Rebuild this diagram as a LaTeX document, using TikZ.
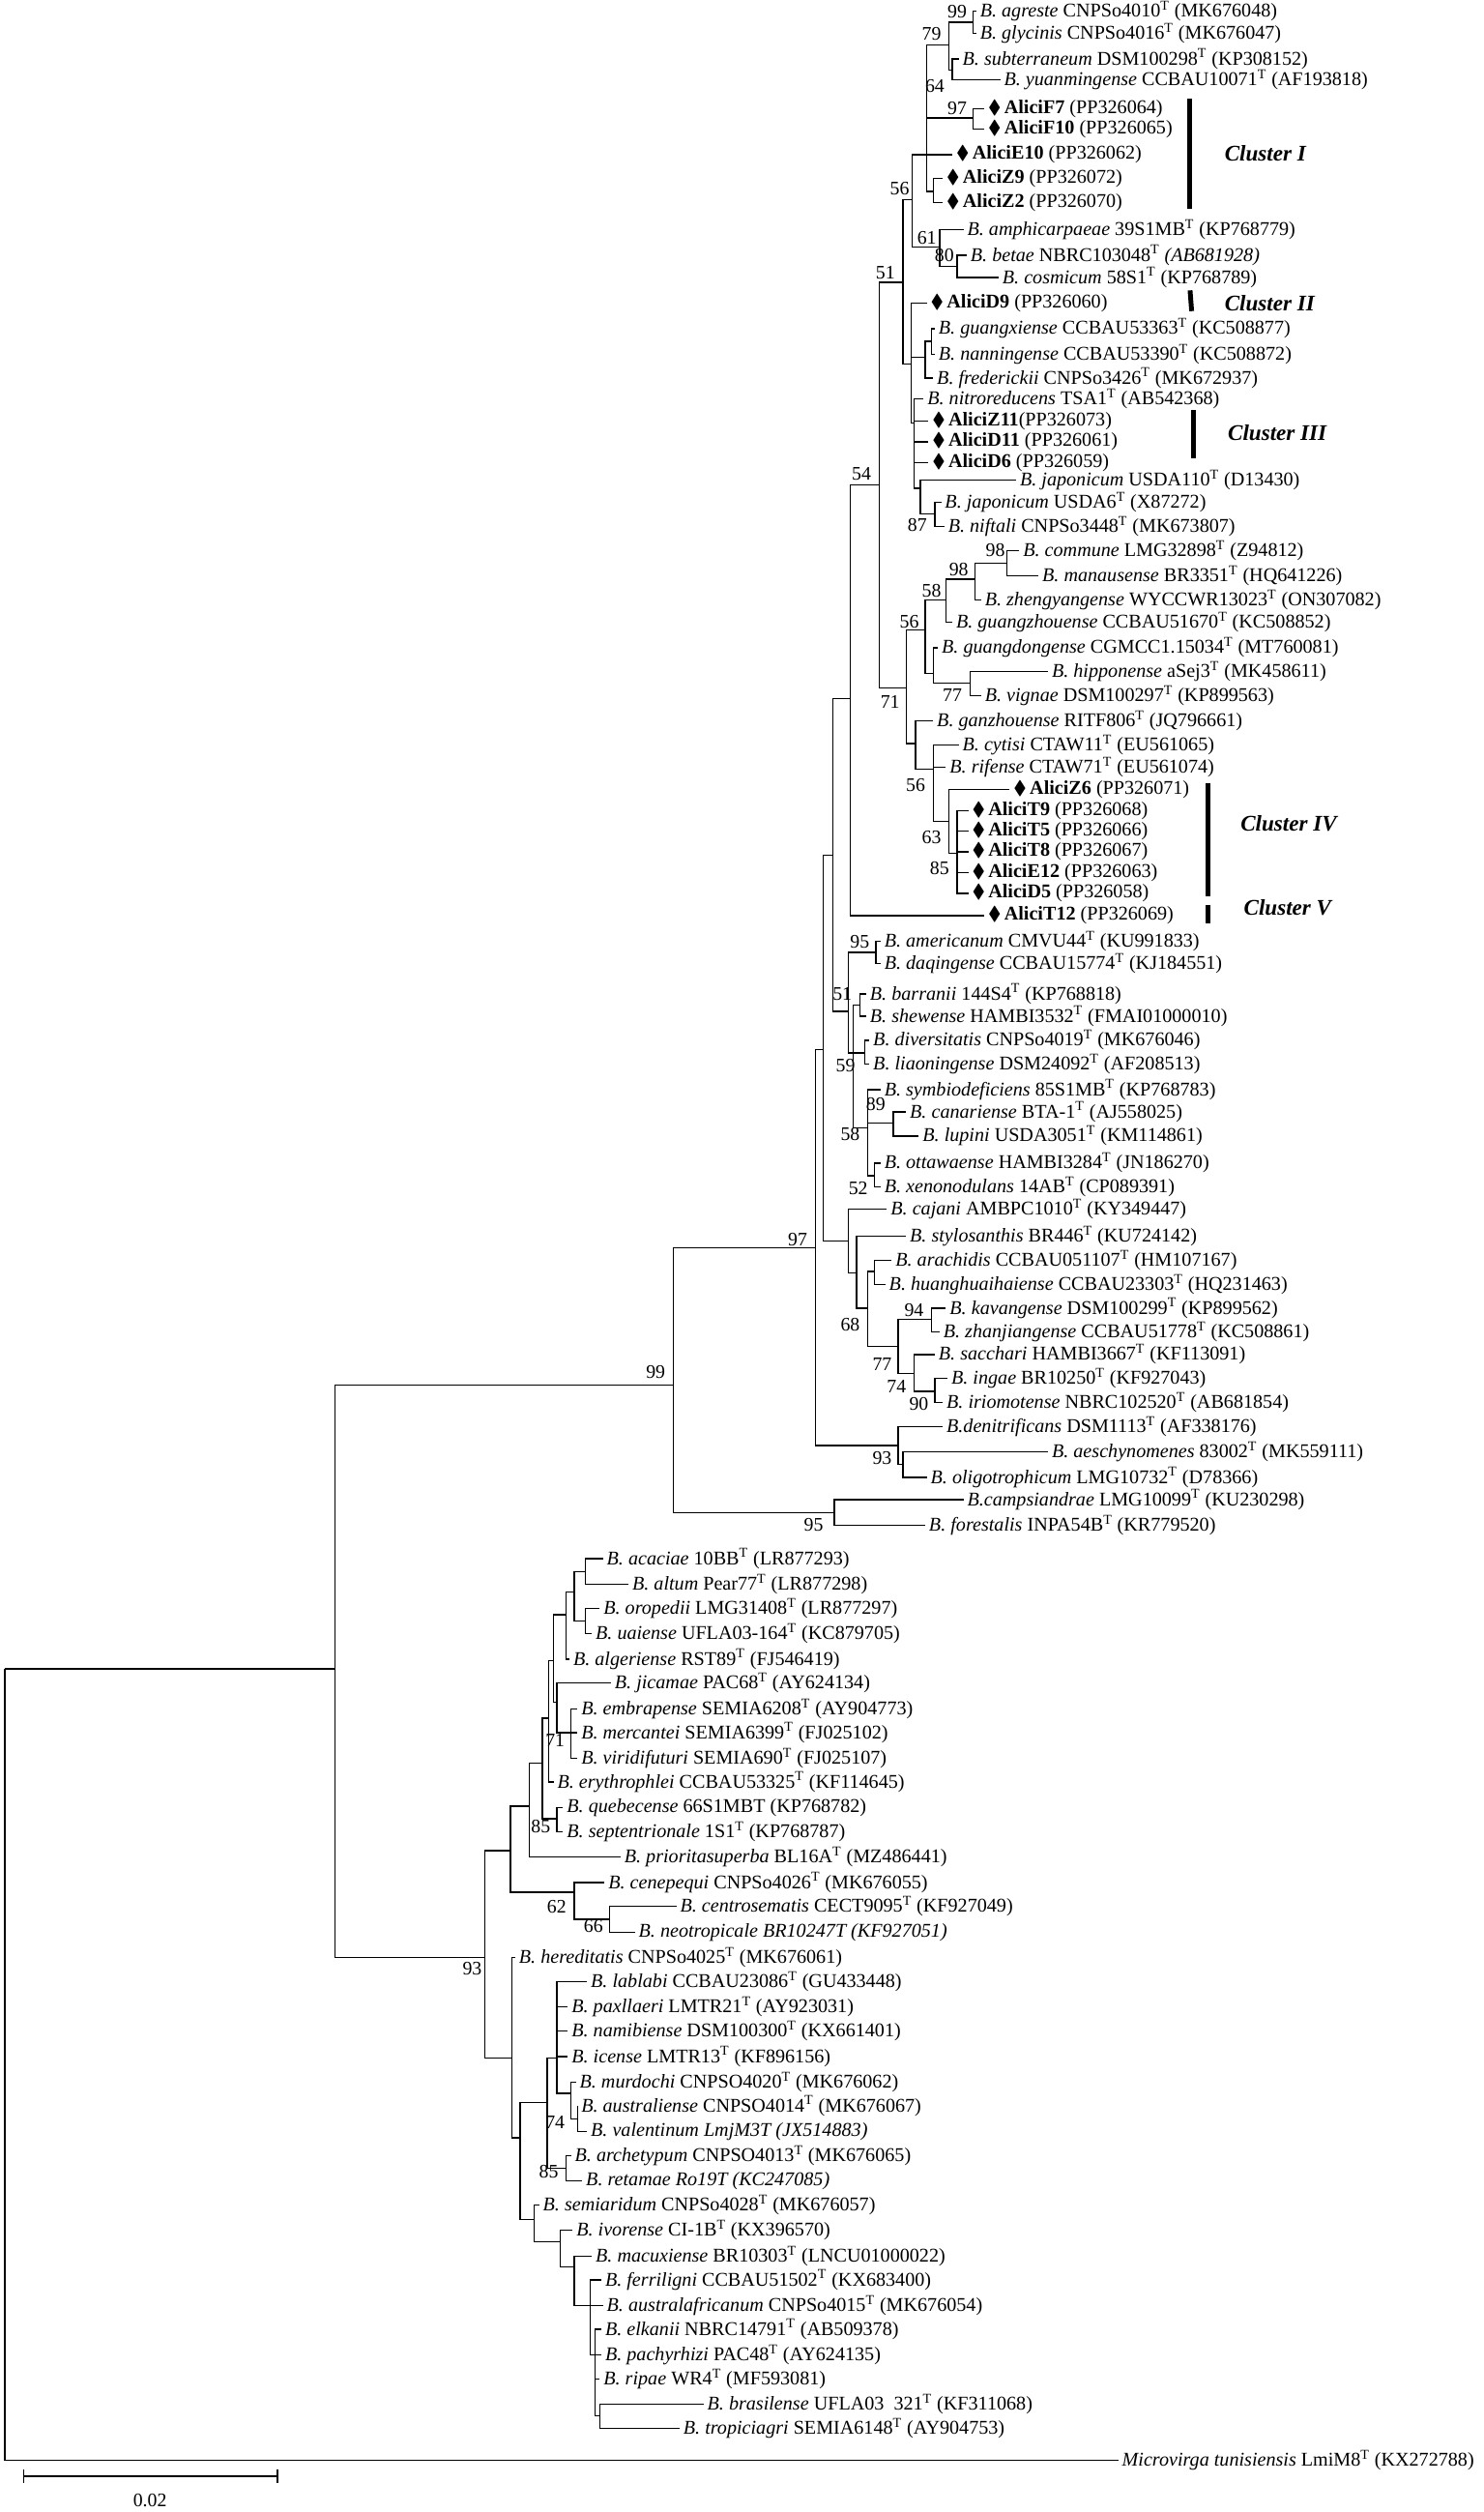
\documentclass[tikz,border=0pt]{standalone}
\usepackage{amssymb}
\usepackage{fontspec}
\setmainfont{Liberation Serif}
\newcommand{\T}{\textsuperscript{T}}
\newcommand{\dm}{$\blacklozenge$\,}
\begin{document}
\begin{tikzpicture}[x=1pt, y=-1pt, line width=0.8pt,
  leaf/.style={anchor=west, inner xsep=2pt, inner ysep=0pt, font=\fontsize{12.2}{13}\selectfont},
  boot/.style={font=\fontsize{12}{14}\selectfont, inner sep=0pt},
  clbar/.style={line width=3pt},
  cltext/.style={anchor=west, font=\fontsize{14}{16}\selectfont\bfseries\itshape}]
\useasboundingbox (0,0) rectangle (929.7,1574.5);
% leaves, upper clade
\node[leaf] (agr) at (612,7) {\textit{B. agreste} CNPSo4010\T{} (MK676048)};
\node[leaf] (gly) at (612,21) {\textit{B. glycinis} CNPSo4016\T{} (MK676047)};
\node[leaf] (sub) at (601,37) {\textit{B. subterraneum} DSM100298\T{} (KP308152)};
\node[leaf] (yua) at (627,50) {\textit{B. yuanmingense} CCBAU10071\T{} (AF193818)};
\node[leaf] (F7) at (617,68) {\dm\textbf{AliciF7} (PP326064)};
\node[leaf] (F10) at (617,81) {\dm\textbf{AliciF10} (PP326065)};
\node[leaf] (E10) at (597,97) {\dm\textbf{AliciE10} (PP326062)};
\node[leaf] (Z9) at (591,112) {\dm\textbf{AliciZ9} (PP326072)};
\node[leaf] (Z2) at (591,127) {\dm\textbf{AliciZ2} (PP326070)};
\node[leaf] (amp) at (604,144) {\textit{B. amphicarpaeae} 39S1MB\T{} (KP768779)};
\node[leaf] (bet) at (606,160) {\textit{B. betae} NBRC103048\T{} \textit{(AB681928)}};
\node[leaf] (cos) at (626,174) {\textit{B. cosmicum} 58S1\T{} (KP768789)};
\node[leaf] (D9) at (581,190) {\dm\textbf{AliciD9} (PP326060)};
\node[leaf] (gxi) at (586,206) {\textit{B. guangxiense} CCBAU53363\T{} (KC508877)};
\node[leaf] (nan) at (586,222) {\textit{B. nanningense} CCBAU53390\T{} (KC508872)};
\node[leaf] (fre) at (585,237) {\textit{B. frederickii} CNPSo3426\T{} (MK672937)};
\node[leaf] (nit) at (579,250) {\textit{B. nitroreducens} TSA1\T{} (AB542368)};
\node[leaf] (Z11) at (582,264) {\dm\textbf{AliciZ11}(PP326073)};
\node[leaf] (D11) at (582,277) {\dm\textbf{AliciD11} (PP326061)};
\node[leaf] (D6) at (582,290) {\dm\textbf{AliciD6} (PP326059)};
\node[leaf] (j110) at (637,301) {\textit{B. japonicum} USDA110\T{} (D13430)};
\node[leaf] (j6) at (590,315) {\textit{B. japonicum} USDA6\T{} (X87272)};
\node[leaf] (nif) at (592,330) {\textit{B. niftali} CNPSo3448\T{} (MK673807)};
\node[leaf] (com) at (639,345) {\textit{B. commune} LMG32898\T{} (Z94812)};
\node[leaf] (man) at (651,361) {\textit{B. manausense} BR3351\T{} (HQ641226)};
\node[leaf] (zhe) at (615,376) {\textit{B. zhengyangense} WYCCWR13023\T{} (ON307082)};
\node[leaf] (gzh) at (597,390) {\textit{B. guangzhouense} CCBAU51670\T{} (KC508852)};
\node[leaf] (gdo) at (588,406) {\textit{B. guangdongense} CGMCC1.15034\T{} (MT760081)};
\node[leaf] (hip) at (657,421) {\textit{B. hipponense} aSej3\T{} (MK458611)};
\node[leaf] (vig) at (615,436) {\textit{B. vignae} DSM100297\T{} (KP899563)};
\node[leaf] (gan) at (585,452) {\textit{B. ganzhouense} RITF806\T{} (JQ796661)};
\node[leaf] (cyt) at (601,467) {\textit{B. cytisi} CTAW11\T{} (EU561065)};
\node[leaf] (rif) at (593,481) {\textit{B. rifense} CTAW71\T{} (EU561074)};
\node[leaf] (Z6) at (633,495) {\dm\textbf{AliciZ6} (PP326071)};
\node[leaf] (T9) at (607,508) {\dm\textbf{AliciT9} (PP326068)};
\node[leaf] (T5) at (607,521) {\dm\textbf{AliciT5} (PP326066)};
\node[leaf] (T8) at (607,534) {\dm\textbf{AliciT8} (PP326067)};
\node[leaf] (E12) at (607,547) {\dm\textbf{AliciE12} (PP326063)};
\node[leaf] (D5) at (607,560) {\dm\textbf{AliciD5} (PP326058)};
\node[leaf] (T12) at (617,574) {\dm\textbf{AliciT12} (PP326069)};
% leaves, middle clades
\node[leaf] (ame) at (552,590) {\textit{B. americanum} CMVU44\T{} (KU991833)};
\node[leaf] (daq) at (552,604) {\textit{B. daqingense} CCBAU15774\T{} (KJ184551)};
\node[leaf] (bar) at (543,623) {\textit{B. barranii} 144S4\T{} (KP768818)};
\node[leaf] (she) at (543,637) {\textit{B. shewense} HAMBI3532\T{} (FMAI01000010)};
\node[leaf] (div) at (545,652) {\textit{B. diversitatis} CNPSo4019\T{} (MK676046)};
\node[leaf] (lia) at (545,667) {\textit{B. liaoningense} DSM24092\T{} (AF208513)};
\node[leaf] (sym) at (552,683) {\textit{B. symbiodeficiens} 85S1MB\T{} (KP768783)};
\node[leaf] (can) at (568,697) {\textit{B. canariense} BTA-1\T{} (AJ558025)};
\node[leaf] (lup) at (576,712) {\textit{B. lupini} USDA3051\T{} (KM114861)};
\node[leaf] (ott) at (552,729) {\textit{B. ottawaense} HAMBI3284\T{} (JN186270)};
\node[leaf] (xen) at (552,744) {\textit{B. xenonodulans} 14AB\T{} (CP089391)};
\node[leaf] (caj) at (556,758) {\textit{B. cajani} AMBPC1010\T{} (KY349447)};
\node[leaf] (sty) at (568,775) {\textit{B. stylosanthis} BR446\T{} (KU724142)};
\node[leaf] (ara) at (559,790) {\textit{B. arachidis} CCBAU051107\T{} (HM107167)};
\node[leaf] (hua) at (555,805) {\textit{B. huanghuaihaiense} CCBAU23303\T{} (HQ231463)};
\node[leaf] (kav) at (593,820) {\textit{B. kavangense} DSM100299\T{} (KP899562)};
\node[leaf] (zha) at (589,835) {\textit{B. zhanjiangense} CCBAU51778\T{} (KC508861)};
\node[leaf] (sac) at (586,849) {\textit{B. sacchari} HAMBI3667\T{} (KF113091)};
\node[leaf] (ing) at (594,864) {\textit{B. ingae} BR10250\T{} (KF927043)};
\node[leaf] (iri) at (591,879) {\textit{B. iriomotense} NBRC102520\T{} (AB681854)};
\node[leaf] (den) at (591,894) {\textit{B.denitrificans} DSM1113\T{} (AF338176)};
\node[leaf] (aes) at (657,910) {\textit{B. aeschynomenes} 83002\T{} (MK559111)};
\node[leaf] (oli) at (581,926) {\textit{B. oligotrophicum} LMG10732\T{} (D78366)};
\node[leaf] (cam) at (604,940) {\textit{B.campsiandrae} LMG10099\T{} (KU230298)};
\node[leaf] (for) at (580,956) {\textit{B. forestalis} INPA54B\T{} (KR779520)};
% leaves, lower clade
\node[leaf] (aca) at (378,977) {\textit{B. acaciae} 10BB\T{} (LR877293)};
\node[leaf] (alt) at (394,993) {\textit{B. altum} Pear77\T{} (LR877298)};
\node[leaf] (oro) at (376,1008) {\textit{B. oropedii} LMG31408\T{} (LR877297)};
\node[leaf] (uai) at (371,1024) {\textit{B. uaiense} UFLA03-164\T{} (KC879705)};
\node[leaf] (alg) at (357,1040) {\textit{B. algeriense} RST89\T{} (FJ546419)};
\node[leaf] (jic) at (383,1055) {\textit{B. jicamae} PAC68\T{} (AY624134)};
\node[leaf] (emb) at (362,1071) {\textit{B. embrapense} SEMIA6208\T{} (AY904773)};
\node[leaf] (mer) at (362,1086) {\textit{B. mercantei} SEMIA6399\T{} (FJ025102)};
\node[leaf] (vir) at (362,1102) {\textit{B. viridifuturi} SEMIA690\T{} (FJ025107)};
\node[leaf] (ery) at (347,1117) {\textit{B. erythrophlei} CCBAU53325\T{} (KF114645)};
\node[leaf] (que) at (353,1133) {\textit{B. quebecense} 66S1MBT (KP768782)};
\node[leaf] (sep) at (353,1148) {\textit{B. septentrionale} 1S1\T{} (KP768787)};
\node[leaf] (pri) at (389,1164) {\textit{B. prioritasuperba} BL16A\T{} (MZ486441)};
\node[leaf] (cen) at (379,1180) {\textit{B. cenepequi} CNPSo4026\T{} (MK676055)};
\node[leaf] (ctr) at (424,1195) {\textit{B. centrosematis} CECT9095\T{} (KF927049)};
\node[leaf] (neo) at (398,1211) {\textit{B. neotropicale BR10247T (KF927051)}};
\node[leaf] (her) at (323,1227) {\textit{B. hereditatis} CNPSo4025\T{} (MK676061)};
\node[leaf] (lab) at (368,1242) {\textit{B. lablabi} CCBAU23086\T{} (GU433448)};
\node[leaf] (pax) at (356,1258) {\textit{B. paxllaeri} LMTR21\T{} (AY923031)};
\node[leaf] (nam) at (356,1273) {\textit{B. namibiense} DSM100300\T{} (KX661401)};
\node[leaf] (ice) at (356,1289) {\textit{B. icense} LMTR13\T{} (KF896156)};
\node[leaf] (mur) at (361,1305) {\textit{B. murdochi} CNPSO4020\T{} (MK676062)};
\node[leaf] (aus) at (362,1320) {\textit{B. australiense} CNPSO4014\T{} (MK676067)};
\node[leaf] (val) at (368,1336) {\textit{B. valentinum LmjM3T (JX514883)}};
\node[leaf] (arc) at (358,1351) {\textit{B. archetypum} CNPSO4013\T{} (MK676065)};
\node[leaf] (ret) at (365,1367) {\textit{B. retamae Ro19T (KC247085)}};
\node[leaf] (sem) at (338,1382) {\textit{B. semiaridum} CNPSo4028\T{} (MK676057)};
\node[leaf] (ivo) at (359,1398) {\textit{B. ivorense} CI-1B\T{} (KX396570)};
\node[leaf] (mac) at (371,1414) {\textit{B. macuxiense} BR10303\T{} (LNCU01000022)};
\node[leaf] (fer) at (377,1429) {\textit{B. ferriligni} CCBAU51502\T{} (KX683400)};
\node[leaf] (afr) at (378,1445) {\textit{B. australafricanum} CNPSo4015\T{} (MK676054)};
\node[leaf] (elk) at (377,1460) {\textit{B. elkanii} NBRC14791\T{} (AB509378)};
\node[leaf] (pac) at (377,1476) {\textit{B. pachyrhizi} PAC48\T{} (AY624135)};
\node[leaf] (rip) at (376,1491) {\textit{B. ripae} WR4\T{} (MF593081)};
\node[leaf] (bra) at (441,1507) {\textit{B. brasilense} UFLA03\ \ 321\T{} (KF311068)};
\node[leaf] (tro) at (426,1522) {\textit{B. tropiciagri} SEMIA6148\T{} (AY904753)};
\node[leaf] (mic) at (701,1542) {\textit{Microvirga tunisiensis} LmiM8\T{} (KX272788)};
% inner nodes
\foreach \n/\x/\y in {root/3/1046, bra0/210/1046, n99/422/868, n97/511/782, top/516/658,
  k/522/536, n54/533/438, a/551/304, b/566/177, n56/572/125, n64/581/97, n79/595/28,
  n99a/610/14, nsy/597/44, n97a/610/74, nz/585/120, n61/589/155, n80/600/167,
  c/571/228, g/580/224, ngn/584/214, c2/573/265, j/577/306, n87/586/322,
  n71/568/431, n56a/580/395, n58/593/376, n98a/611/363, n98b/631/353, ng2/585/422,
  n77/608/428, n56b/574/466, n56c/585/482, n63/595/515, n85/600/535,
  n51/532/634, n95/549/597, n59/535/660, nbs1/539/630, nbs2/542/660, n58m/544/707,
  n89/560/704, n52/548/737, ncs/532/778, nsty/537/798, n68/544/820, nah/548/797,
  n77b/563/844, n94/584/827, n74/573/861, n90/586/872, n93/563/906, nao/566/918,
  n95b/523/948,
  n93b/304/1227, u/320/1160, p/332/1132, q/340/1105, n85c/349/1140, r/344/1077,
  s/347/1041, t/355/1012, v/360/998, naa/367/985, nou/367/1016, n71c/349/1067,
  nemv/358/1086, n62/360/1186, n66/382/1203, l/321/1290, m/326/1340, w/343/1318,
  w1/349/1290, n74c/358/1312, nav/362/1328, n85d/355/1359, xx/335/1391,
  x1/351/1405, x2/360/1421, x3/370/1445, x4/373/1476, x5/376/1514}
  \coordinate (\n) at (\x,\y);
% branches
\foreach \p/\c in {root/bra0, root/mic, bra0/n99, bra0/n93b, n99/n97, n99/n95b,
  n97/top, n97/n93, top/k, top/ncs, k/n54, k/n51, n54/a, n54/T12, a/b, a/n71,
  b/n56, b/c, n56/n64, n56/n61, n64/n79, n64/n97a, n64/E10, n64/nz, n79/n99a, n79/nsy,
  n99a/agr, n99a/gly, nsy/sub, nsy/yua, n97a/F7, n97a/F10, nz/Z9, nz/Z2,
  n61/amp, n61/n80, n80/bet, n80/cos, c/D9, c/g, c/c2, g/ngn, g/fre, ngn/gxi, ngn/nan,
  c2/nit, c2/Z11, c2/D11, c2/D6, c2/j, j/j110, j/n87, n87/j6, n87/nif,
  n71/n56a, n71/n56b, n56a/n58, n56a/ng2, n58/n98a, n58/gzh, n98a/n98b, n98a/zhe,
  n98b/com, n98b/man, ng2/gdo, ng2/n77, n77/hip, n77/vig, n56b/gan, n56b/n56c,
  n56c/cyt, n56c/rif, n56c/n63, n63/Z6, n63/n85, n85/T9, n85/T5, n85/T8, n85/E12, n85/D5,
  n51/n95, n51/n59, n95/ame, n95/daq, n59/nbs1, n59/nbs2, n59/n58m, nbs1/bar, nbs1/she,
  nbs2/div, nbs2/lia, n58m/sym, n58m/n89, n58m/n52, n89/can, n89/lup, n52/ott, n52/xen,
  ncs/caj, ncs/nsty, nsty/sty, nsty/n68, n68/nah, n68/n77b, nah/ara, nah/hua,
  n77b/n94, n77b/n74, n94/kav, n94/zha, n74/sac, n74/n90, n90/ing, n90/iri,
  n93/den, n93/nao, nao/aes, nao/oli, n95b/cam, n95b/for,
  n93b/u, n93b/l, u/p, u/n62, p/q, p/pri, q/r, q/n85c, n85c/que, n85c/sep,
  r/s, r/ery, s/t, s/n71c, t/v, t/alg, v/naa, v/nou, naa/aca, naa/alt, nou/oro, nou/uai,
  n71c/jic, n71c/nemv, nemv/emb, nemv/mer, nemv/vir, n62/cen, n62/n66, n66/ctr, n66/neo,
  l/her, l/m, m/w, m/xx, w/w1, w/n85d, w1/lab, w1/pax, w1/nam, w1/ice, w1/n74c,
  n74c/mur, n74c/nav, nav/aus, nav/val, n85d/arc, n85d/ret, xx/sem, xx/x1, x1/ivo, x1/x2,
  x2/mac, x2/x3, x3/fer, x3/afr, x3/x4, x4/elk, x4/pac, x4/rip, x4/x5, x5/bra, x5/tro}
  \draw (\p) |- (\c);
% bootstrap values
\foreach \v/\x/\y in {99/600/7, 79/584/21, 64/586/54, 97/600/68, 56/564/118, 61/581/149,
  80/592/160, 51/555/171, 54/540/297, 87/575/329, 98/624/345, 98/601/357, 58/584/370,
  56/570/390, 71/558/440, 77/597/436, 56/574/492, 63/584/525, 85/589/544,
  95/539/590, 51/528/623, 59/530/668, 89/549/692, 58/533/711, 52/538/745, 97/500/777,
  68/533/830, 94/573/821, 77/553/855, 74/562/869, 90/576/880, 93/553/914, 95/510/956,
  99/411/860, 93/296/1234, 71/348/1091, 85/339/1145, 62/349/1195, 66/372/1207,
  74/348/1330, 85/344/1361}
  \node[boot] at (\x,\y) {\v};
% clusters
\draw[clbar] (746,62) -- (746,131);
\draw[clbar] (746,182) -- (747,195);
\draw[clbar] (748,257) -- (748,287);
\draw[clbar] (757,491) -- (757,562);
\draw[clbar] (757,567) -- (757,579);
\node[cltext] at (764,96) {Cluster I};
\node[cltext] at (764,190) {Cluster II};
\node[cltext] at (766,271) {Cluster III};
\node[cltext] at (774,516) {Cluster IV};
\node[cltext] at (776,569) {Cluster V};
% scale bar
\draw (15,1548) -- (15,1556) (15,1552) -- (174,1552) (174,1548) -- (174,1556);
\node[boot] at (94,1567) {0.02};
\end{tikzpicture}
\end{document}
